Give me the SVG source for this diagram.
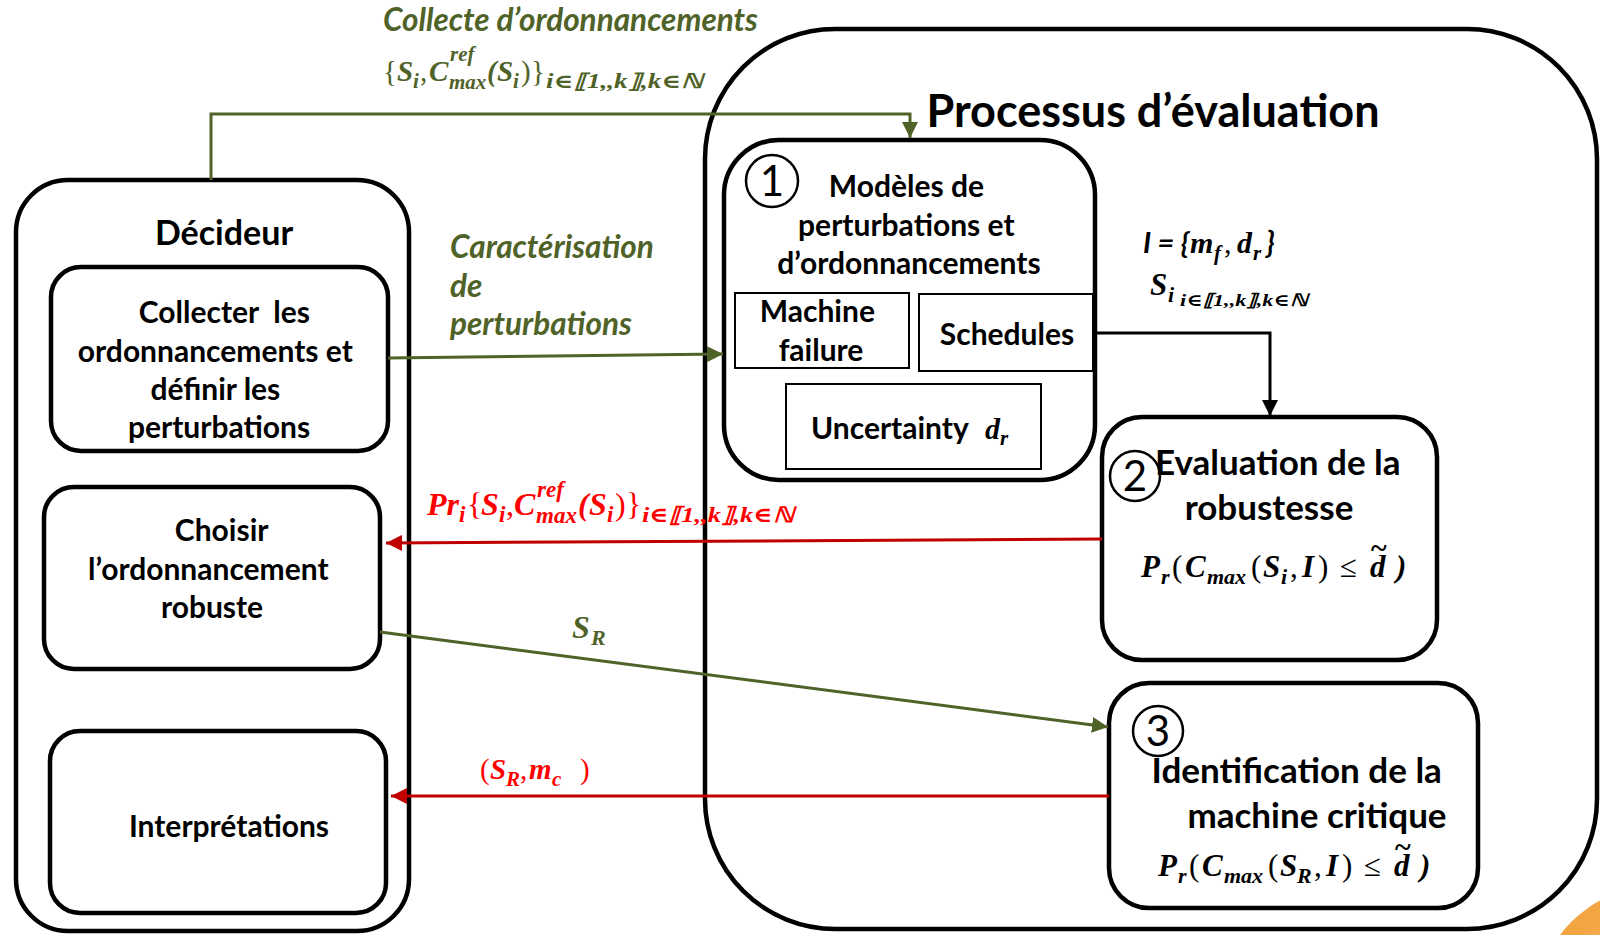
<svg xmlns="http://www.w3.org/2000/svg" width="1600" height="935" viewBox="0 0 1600 935">
  <style>
    .t { font-family: Lato, "Open Sans", sans-serif; font-weight: 700; fill: #000; }
    .c { text-anchor: middle; }
    .it { font-style: italic; }
    .m { font-family: "Liberation Serif", "DejaVu Serif", serif; font-weight: 700; font-style: italic; }
    .up { font-style: normal; font-weight: 400; }
    .tl { font-style: normal; font-weight: 700; }
    .g { fill: #4F6228; }
    .r { fill: #FF0000; }
    .k { fill: #000; }
    .box { fill: #fff; stroke: #000; stroke-width: 4.5; }
    .thin { fill: #fff; stroke: #000; stroke-width: 2; }
    .num { fill: none; stroke: #000; stroke-width: 2.5; }
    .digit { font-family: Lato, "Open Sans", sans-serif; font-weight: 400; font-size: 42px; text-anchor: middle; }
    .lg { fill: none; stroke: #4F6228; stroke-width: 3; }
    .lr { fill: none; stroke: #C00000; stroke-width: 3; }
    .lk { fill: none; stroke: #000; stroke-width: 3; }
  </style>
  <defs>
    <marker id="arrG" markerUnits="userSpaceOnUse" markerWidth="16" markerHeight="16" refX="16" refY="8" orient="auto">
      <path d="M0,0 L16,8 L0,16 z" fill="#4F6228"/>
    </marker>
    <marker id="arrR" markerUnits="userSpaceOnUse" markerWidth="16" markerHeight="16" refX="16" refY="8" orient="auto">
      <path d="M0,0 L16,8 L0,16 z" fill="#C00000"/>
    </marker>
    <marker id="arrK" markerUnits="userSpaceOnUse" markerWidth="16" markerHeight="16" refX="16" refY="8" orient="auto">
      <path d="M0,0 L16,8 L0,16 z" fill="#000"/>
    </marker>
    <radialGradient id="orange" cx="0.62" cy="0.62" r="0.6">
      <stop offset="0" stop-color="#FCE3C6"/>
      <stop offset="0.55" stop-color="#F8C184"/>
      <stop offset="1" stop-color="#F3A543"/>
    </radialGradient>
  </defs>

  <rect width="1600" height="935" fill="#fff"/>

  <!-- decorative disc in the corner -->
  <circle cx="1655" cy="1005" r="118" fill="url(#orange)"/>

  <!-- evaluation process container -->
  <g id="processus">
    <rect class="box" x="705" y="29" width="892" height="900" rx="130"/>
    <text class="t c" x="1153" y="127" font-size="45">Processus d’évaluation</text>
  </g>

  <!-- decision maker -->
  <g id="decideur">
    <rect class="box" x="16" y="180" width="393" height="751" rx="52"/>
    <text class="t c" x="224" y="245" font-size="34">Décideur</text>
  </g>

  <g id="collecter">
    <rect class="box" x="51" y="267" width="337" height="184" rx="30"/>
    <text class="t c" font-size="30">
      <tspan x="228" y="323" xml:space="preserve">Collecter  les</tspan>
      <tspan x="219" y="362">ordonnancements et</tspan>
      <tspan x="219" y="400">définir les</tspan>
      <tspan x="219" y="438">perturbations</tspan>
    </text>
  </g>

  <g id="choisir">
    <rect class="box" x="44" y="487" width="336" height="182" rx="30"/>
    <text class="t c" font-size="30">
      <tspan x="225" y="541">Choisir</tspan>
      <tspan x="212" y="580">l’ordonnancement</tspan>
      <tspan x="212" y="618">robuste</tspan>
    </text>
  </g>

  <g id="interpretations">
    <rect class="box" x="50" y="731" width="336" height="182" rx="30"/>
    <text class="t c" x="229" y="837" font-size="30">Interprétations</text>
  </g>

  <!-- step 1: models -->
  <g id="modeles">
    <rect class="box" x="724" y="140" width="371" height="340" rx="55"/>
    <circle class="num" cx="772" cy="181" r="26"/>
    <text class="digit" x="772" y="196">1</text>
    <text class="t c" font-size="30">
      <tspan x="910" y="197">Modèles de</tspan>
      <tspan x="910" y="236">perturbations et</tspan>
      <tspan x="909" y="274">d’ordonnancements</tspan>
    </text>
  </g>

  <g id="machine-failure">
    <rect class="thin" x="735" y="293" width="174" height="75"/>
    <text class="t c" font-size="30">
      <tspan x="821" y="322">Machine</tspan>
      <tspan x="821" y="361">failure</tspan>
    </text>
  </g>

  <g id="schedules">
    <rect class="thin" x="919" y="294" width="174" height="77"/>
    <text class="t c" x="1007" y="345" font-size="30">Schedules</text>
  </g>

  <g id="uncertainty">
    <rect class="thin" x="786" y="384" width="255" height="85"/>
    <text class="t" x="811" y="439" font-size="30">Uncertainty</text>
    <text class="m" x="985" y="439" font-size="30">d<tspan font-size="21" dy="6">r</tspan></text>
  </g>

  <!-- step 2: robustness evaluation -->
  <g id="evaluation">
    <rect class="box" x="1102" y="417" width="335" height="243" rx="40"/>
    <circle class="num" cx="1135" cy="476" r="25"/>
    <text class="digit" x="1135" y="491">2</text>
    <text class="t c" font-size="35">
      <tspan x="1282" y="475">Evaluation de la</tspan>
      <tspan x="1269" y="520">robustesse</tspan>
    </text>
    <text class="m k" font-size="31">
      <tspan x="1141" y="577">P</tspan>
      <tspan x="1161" y="584" font-size="22">r</tspan>
      <tspan class="up" x="1172" y="577">(</tspan>
      <tspan x="1185" y="577">C</tspan>
      <tspan x="1207" y="584" font-size="22">max</tspan>
      <tspan class="up" x="1251" y="577">(</tspan>
      <tspan x="1263" y="577">S</tspan>
      <tspan x="1281" y="584" font-size="22">i</tspan>
      <tspan class="up" x="1290" y="577">,</tspan>
      <tspan x="1302" y="577">I</tspan>
      <tspan class="up" x="1318" y="577">)</tspan>
      <tspan class="up" x="1340" y="577">≤</tspan>
      <tspan x="1370" y="577">d</tspan>
      <tspan class="tl" x="1371" y="558" font-size="30">~</tspan>
      <tspan x="1396" y="577">)</tspan>
    </text>
  </g>

  <!-- step 3: critical machine -->
  <g id="identification">
    <rect class="box" x="1109" y="683" width="369" height="225" rx="40"/>
    <circle class="num" cx="1158" cy="731" r="25"/>
    <text class="digit" x="1158" y="746">3</text>
    <text class="t c" font-size="35">
      <tspan x="1301" y="783">Identification de la</tspan>
      <tspan x="1317" y="828">machine critique</tspan>
    </text>
    <text class="m k" font-size="31">
      <tspan x="1158" y="876">P</tspan>
      <tspan x="1178" y="883" font-size="22">r</tspan>
      <tspan class="up" x="1189" y="876">(</tspan>
      <tspan x="1202" y="876">C</tspan>
      <tspan x="1224" y="883" font-size="22">max</tspan>
      <tspan class="up" x="1268" y="876">(</tspan>
      <tspan x="1280" y="876">S</tspan>
      <tspan x="1297" y="883" font-size="22">R</tspan>
      <tspan class="up" x="1314" y="876">,</tspan>
      <tspan x="1326" y="876">I</tspan>
      <tspan class="up" x="1342" y="876">)</tspan>
      <tspan class="up" x="1364" y="876">≤</tspan>
      <tspan x="1394" y="876">d</tspan>
      <tspan class="tl" x="1395" y="857" font-size="30">~</tspan>
      <tspan x="1420" y="876">)</tspan>
    </text>
  </g>

  <!-- connectors and their labels -->
  <g id="connectors">
    <polyline class="lg" points="211,180 211,114 910,114 910,138" marker-end="url(#arrG)"/>
    <line class="lg" x1="388" y1="358" x2="723" y2="354" marker-end="url(#arrG)"/>
    <polyline class="lk" points="1093,333 1270,333 1270,416" marker-end="url(#arrK)"/>
    <line class="lr" x1="1102" y1="539" x2="386" y2="543" marker-end="url(#arrR)"/>
    <line class="lg" x1="380" y1="632" x2="1108" y2="727" marker-end="url(#arrG)"/>
    <line class="lr" x1="1109" y1="796" x2="391" y2="796" marker-end="url(#arrR)"/>

    <!-- label: schedules sent for evaluation -->
    <text class="t it g" x="383" y="31" font-size="31.5">Collecte d’ordonnancements</text>
    <text class="m g" font-size="29">
      <tspan class="up" x="383" y="81">{</tspan>
      <tspan x="397" y="81">S</tspan>
      <tspan x="413" y="88" font-size="21">i</tspan>
      <tspan class="up" x="420" y="81">,</tspan>
      <tspan x="429" y="81">C</tspan>
      <tspan x="450" y="61" font-size="21">ref</tspan>
      <tspan x="449" y="89" font-size="21">max</tspan>
      <tspan x="487" y="81">(</tspan>
      <tspan x="497" y="81">S</tspan>
      <tspan x="513" y="88" font-size="21">i</tspan>
      <tspan class="up" x="521" y="81">)</tspan>
      <tspan class="up" x="531" y="81">}</tspan>
      <tspan x="546" y="88" font-size="20" textLength="157" lengthAdjust="spacingAndGlyphs">i∈⟦1,,k⟧,k∈ℕ</tspan>
    </text>

    <!-- label: disturbance characterisation -->
    <text class="t it g" font-size="31.5">
      <tspan x="450" y="258">Caractérisation</tspan>
      <tspan x="450" y="297">de</tspan>
      <tspan x="450" y="335">perturbations</tspan>
    </text>

    <!-- label: inputs of the evaluation -->
    <text class="t it k" x="1143" y="253" font-size="29" xml:space="preserve">I = {</text>
    <text class="m k" font-size="30">
      <tspan x="1190" y="253">m</tspan>
      <tspan x="1214" y="260" font-size="21">f</tspan>
      <tspan class="up" x="1224" y="253">,</tspan>
      <tspan x="1237" y="253">d</tspan>
      <tspan x="1253" y="260" font-size="21">r</tspan>
    </text>
    <text class="t it k" x="1266" y="253" font-size="30">}</text>
    <text class="m k" font-size="31">
      <tspan x="1150" y="295">S</tspan>
      <tspan x="1168" y="302" font-size="22">i</tspan>
      <tspan x="1180" y="306" font-size="17" textLength="128" lengthAdjust="spacingAndGlyphs">i∈⟦1,,k⟧,k∈ℕ</tspan>
    </text>

    <!-- label: robustness probabilities returned -->
    <text class="m r" font-size="32">
      <tspan x="427" y="515">Pr</tspan>
      <tspan x="459" y="522" font-size="23">i</tspan>
      <tspan class="up" x="467" y="515">{</tspan>
      <tspan x="481" y="515">S</tspan>
      <tspan x="499" y="522" font-size="23">i</tspan>
      <tspan class="up" x="506" y="515">,</tspan>
      <tspan x="514" y="515">C</tspan>
      <tspan x="537" y="497" font-size="23">ref</tspan>
      <tspan x="536" y="523" font-size="23">max</tspan>
      <tspan x="578" y="515">(</tspan>
      <tspan x="589" y="515">S</tspan>
      <tspan x="607" y="522" font-size="23">i</tspan>
      <tspan class="up" x="615" y="515">)</tspan>
      <tspan class="up" x="626" y="515">}</tspan>
      <tspan x="642" y="522" font-size="21" textLength="152" lengthAdjust="spacingAndGlyphs">i∈⟦1,,k⟧,k∈ℕ</tspan>
    </text>

    <!-- label: robust schedule -->
    <text class="m g" font-size="32">
      <tspan x="572" y="638">S</tspan>
      <tspan x="591" y="645" font-size="22">R</tspan>
    </text>

    <!-- label: robust schedule and critical machine -->
    <text class="m r" font-size="29">
      <tspan class="up" x="480" y="779">(</tspan>
      <tspan x="490" y="779">S</tspan>
      <tspan x="506" y="786" font-size="21">R</tspan>
      <tspan class="up" x="520" y="779">,</tspan>
      <tspan x="529" y="779">m</tspan>
      <tspan x="552" y="786" font-size="21">c</tspan>
      <tspan class="up" x="580" y="779">)</tspan>
    </text>
  </g>
</svg>
